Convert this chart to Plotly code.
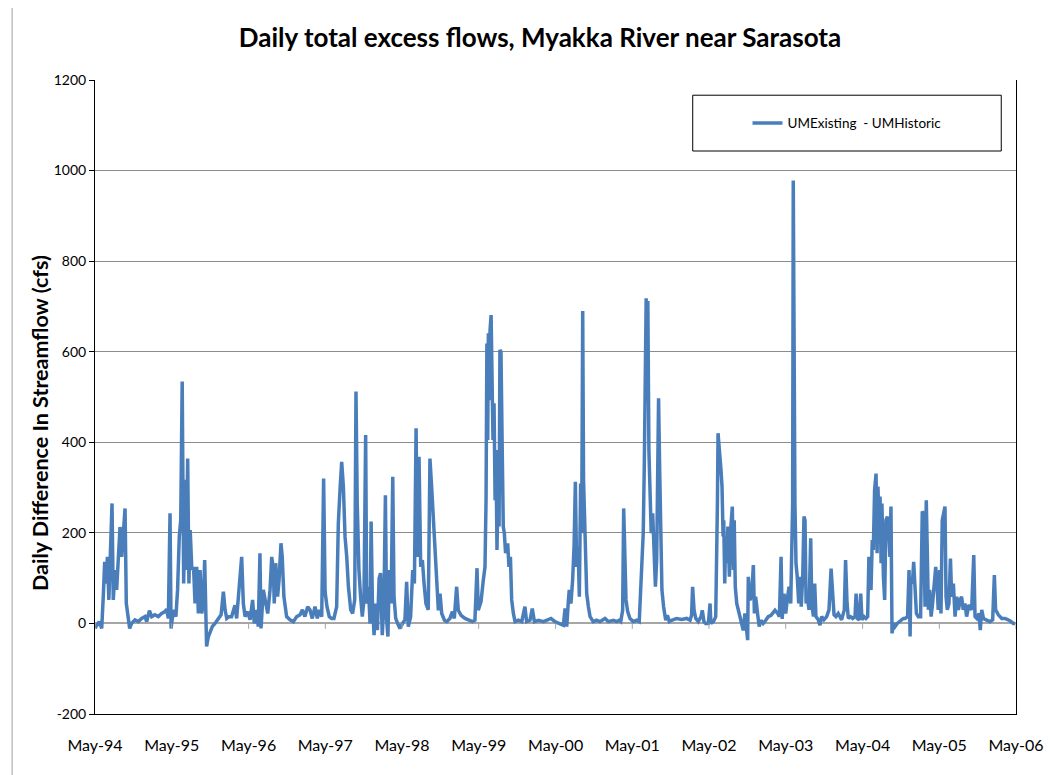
import pandas as pd
import plotly.graph_objects as go

# days since 1994-05-01 and daily excess flow (cfs)
start_date = "1994-05-01"
day = [
    0, 5, 20, 32, 40, 46, 52, 59, 66, 74, 81, 87, 95, 103, 113, 119, 127, 135, 143, 149,
    157, 165, 174, 190, 206, 222, 238, 246, 259, 270, 285, 301, 317, 333, 341, 349, 357, 362, 373, 385,
    393, 401, 408, 415, 422, 430, 434, 441, 447, 453, 461, 469, 476, 484, 492, 500, 508, 515, 522, 531,
    539, 547, 558, 571, 587, 600, 611, 619, 627, 638, 650, 666, 674, 687, 698, 706, 714, 727, 738, 750,
    758, 769, 777, 785, 790, 801, 812, 822, 833, 841, 849, 853, 860, 869, 876, 885, 891, 899, 912, 928,
    944, 960, 976, 987, 999, 1012, 1023, 1034, 1047, 1058, 1067, 1079, 1088, 1095, 1104, 1115, 1126, 1137, 1150, 1158,
    1166, 1174, 1182, 1190, 1198, 1206, 1217, 1226, 1236, 1242, 1248, 1256, 1264, 1272, 1280, 1288, 1293, 1301, 1309, 1314,
    1320, 1328, 1336, 1344, 1352, 1359, 1367, 1375, 1382, 1388, 1394, 1401, 1409, 1417, 1423, 1431, 1440, 1451, 1464, 1475,
    1483, 1491, 1502, 1512, 1520, 1528, 1534, 1542, 1550, 1558, 1566, 1575, 1586, 1594, 1602, 1610, 1618, 1626, 1634, 1642,
    1650, 1663, 1674, 1689, 1701, 1710, 1721, 1729, 1742, 1761, 1777, 1796, 1808, 1818, 1824, 1837, 1848, 1856, 1861, 1865,
    1869, 1872, 1877, 1880, 1885, 1889, 1894, 1899, 1904, 1908, 1913, 1918, 1923, 1927, 1932, 1938, 1943, 1948, 1954, 1964,
    1970, 1977, 1983, 1991, 1999, 2015, 2031, 2046, 2054, 2070, 2081, 2091, 2110, 2134, 2149, 2170, 2189, 2213, 2229, 2237,
    2245, 2253, 2257, 2265, 2273, 2280, 2286, 2292, 2299, 2305, 2311, 2316, 2321, 2325, 2332, 2340, 2348, 2356, 2371, 2387,
    2403, 2427, 2443, 2467, 2483, 2494, 2502, 2511, 2516, 2521, 2527, 2535, 2546, 2562, 2578, 2590, 2597, 2603, 2609, 2614,
    2619, 2623, 2627, 2631, 2636, 2641, 2647, 2654, 2660, 2667, 2673, 2678, 2682, 2687, 2692, 2698, 2706, 2716, 2724, 2733,
    2744, 2768, 2792, 2816, 2832, 2839, 2844, 2851, 2859, 2871, 2884, 2890, 2898, 2906, 2919, 2927, 2931, 2943, 2954, 2958,
    2962, 2965, 2970, 2974, 2979, 2984, 2989, 2992, 2997, 3001, 3006, 3012, 3019, 3025, 3033, 3038, 3042, 3047, 3054, 3062,
    3069, 3077, 3085, 3093, 3101, 3106, 3109, 3117, 3125, 3133, 3138, 3144, 3153, 3161, 3169, 3180, 3192, 3204, 3217, 3228,
    3236, 3249, 3257, 3265, 3270, 3279, 3287, 3295, 3303, 3311, 3315, 3320, 3323, 3327, 3331, 3336, 3342, 3349, 3355, 3361,
    3368, 3374, 3379, 3384, 3390, 3398, 3406, 3411, 3419, 3425, 3431, 3442, 3450, 3458, 3469, 3482, 3493, 3503, 3509, 3517,
    3526, 3537, 3545, 3553, 3566, 3572, 3579, 3585, 3596, 3606, 3617, 3622, 3628, 3637, 3644, 3650, 3660, 3669, 3677, 3683,
    3688, 3693, 3699, 3704, 3710, 3717, 3722, 3726, 3731, 3736, 3741, 3745, 3752, 3758, 3764, 3771, 3777, 3783, 3788, 3793,
    3799, 3807, 3818, 3831, 3847, 3855, 3867, 3874, 3879, 3883, 3890, 3896, 3902, 3909, 3918, 3929, 3937, 3944, 3950, 3956,
    3961, 3966, 3972, 3979, 3986, 3994, 4001, 4007, 4013, 4020, 4026, 4032, 4039, 4045, 4050, 4056, 4064, 4071, 4077, 4085,
    4093, 4101, 4109, 4117, 4124, 4132, 4140, 4148, 4159, 4172, 4182, 4188, 4196, 4207, 4213, 4220, 4228, 4243, 4259, 4272,
    4280, 4286, 4299, 4315, 4331, 4354, 4370, 4378,
]
excess_cfs = [
    -5, -7, 4, -11, 66, 136, 88, 147, 52, 147, 265, 52, 118, 74, 177, 213, 147, 213, 254, 44,
    15, -11, 0, 8, 4, 11, 15, 4, 28, 15, 19, 15, 22, 26, 31, 11, 243, -11, 30, 15,
    74, 191, 228, 534, 88, 317, 118, 364, 88, 206, 118, 125, 44, 125, 22, 118, 22, 44, 140, -51,
    -30, -22, -7, 0, 11, 19, 70, 30, 11, 15, 15, 40, 11, 81, 147, 44, 15, 26, 8, 52,
    0, 30, -7, 155, -11, 74, 44, 22, 74, 147, 118, 44, 133, 59, 96, 177, 147, 59, 15, 8,
    4, 15, 19, 30, 15, 37, 30, 11, 37, 11, 30, 15, 320, 70, 37, 15, 11, 11, 37, 221,
    295, 357, 302, 191, 147, 81, 30, 22, 52, 512, 265, 118, 59, 15, 52, 416, 44, 81, 0, 225,
    52, -26, 44, -15, 99, 111, -26, 44, 283, 8, -29, 118, 44, 324, 59, 11, 0, -11, 0, 8,
    92, -7, 15, 118, 88, 431, 147, 368, 125, 140, 88, 44, 30, 364, 302, 230, 150, 74, 29, 66,
    22, 7, 4, 11, 26, 11, 81, 29, 18, 11, 7, 4, 7, 122, 29, 48, 96, 125, 272, 618,
    405, 641, 493, 648, 681, 493, 405, 486, 272, 383, 162, 302, 214, 604, 600, 383, 214, 199, 155, 177,
    125, 147, 52, 22, 4, 7, 4, 37, 4, 7, 33, 4, 7, 4, 7, 11, 4, 0, -4, 33,
    -7, 52, 74, 44, 96, 173, 313, 125, 169, 59, 309, 199, 690, 317, 155, 66, 37, 15, 4, 7,
    4, 11, 4, 7, 4, 7, 4, 29, 254, 125, 52, 26, 11, 4, 7, 4, 81, 155, 199, 346,
    501, 718, 493, 712, 383, 302, 199, 243, 140, 81, 140, 346, 497, 346, 199, 74, 37, 7, 18, 4,
    7, 11, 9, 11, 7, 18, 81, 29, 11, 4, 15, 29, 4, 0, 0, 44, 0, 4, 15, 118,
    265, 420, 398, 368, 339, 302, 192, 228, 88, 192, 133, 214, 103, 206, 258, 118, 228, 81, 44, 29,
    15, -7, -15, 22, -7, -37, 103, 52, 59, 129, 22, 59, 22, -7, 7, 0, 7, 15, 18, 26,
    29, 22, 15, 147, 10, 66, 22, 55, 81, 44, 147, 265, 978, 449, 265, 133, 103, 44, 103, 37,
    103, 236, 228, 44, 59, 30, 188, 44, 15, 88, 15, 8, -4, 15, 8, 15, 30, 121, 59, 19,
    15, 22, 15, 8, 30, 140, 44, 11, 15, 11, 15, 66, 11, 8, 66, 8, 15, 11, 15, 147,
    88, 74, 184, 162, 294, 331, 155, 302, 228, 280, 133, 265, 103, 52, 228, 236, 206, 147, 258, -22,
    0, -7, 0, 4, 11, 11, 15, 118, -29, 103, 88, 136, 81, 22, 15, 15, 247, 243, 37, 272,
    155, 30, 74, 15, 44, 81, 125, 88, 30, 118, 22, 228, 250, 258, 59, 30, 44, 143, 59, 88,
    15, 59, 30, 52, 59, 30, 44, 15, 41, 30, 151, 15, 11, 22, -15, 30, 11, 8, 4, 8,
    107, 30, 19, 11, 11, 6, 0, 0,
]
series_name = "UMExisting  - UMHistoric"
y_ticks = [-200, 0, 200, 400, 600, 800, 1000, 1200]
y_tick_labels = ["-200", "0", "200", "400", "600", "800", "1000", "1200"]

dates = pd.Timestamp(start_date) + pd.to_timedelta(day, unit="D")
tick_dates = pd.date_range("1994-05-01", "2006-05-01", freq="12MS")

fig = go.Figure()
fig.add_trace(go.Scatter(
    x=dates, y=excess_cfs, mode="lines", name=series_name,
    line=dict(color="#4A7EBB", width=3.5),
))

# small tick marks sitting on the zero line
shapes = [
    dict(type="line", xref="x", yref="y", x0=t, x1=t, y0=0, y1=-12,
         line=dict(color="#A6A6A6", width=1))
    for t in tick_dates
]
# legend frame
shapes.append(dict(type="rect", xref="paper", yref="paper",
                   x0=0.649, x1=0.984, y0=0.888, y1=0.976,
                   line=dict(color="black", width=1), fillcolor="white", layer="below"))
# chart area left edge
shapes.append(dict(type="line", xref="paper", yref="paper",
                   x0=-0.090, x1=-0.090, y0=-0.12, y1=1.14,
                   line=dict(color="#A0A0A0", width=1)))

fig.update_layout(
    width=1064, height=775,
    margin=dict(l=87, r=56, t=72, b=69),
    paper_bgcolor="white", plot_bgcolor="white",
    font=dict(family="Lato", color="black"),
    title=dict(text="<b>Daily total excess flows, Myakka River near Sarasota</b>",
               x=0.5, xref="container", xanchor="center",
               y=0.961, yref="container", yanchor="middle",
               font=dict(size=26, color="black")),
    showlegend=True,
    legend=dict(x=0.8165, y=0.932, xanchor="center", yanchor="middle",
                bgcolor="rgba(0,0,0,0)", font=dict(size=13.5)),
    shapes=shapes,
    annotations=[dict(text="<b>Daily Difference In Streamflow (cfs)</b>",
                      xref="paper", yref="paper", x=-0.0597, y=0.459,
                      xanchor="center", yanchor="middle",
                      textangle=-90, showarrow=False, font=dict(size=21.5))],
)
fig.update_xaxes(
    range=[tick_dates[0], tick_dates[-1]],
    tickvals=tick_dates, tickformat="%b-%y",
    showgrid=False, zeroline=False,
    showline=True, linecolor="black", linewidth=1, mirror=False,
    ticks="", tickfont=dict(size=16), ticklabelstandoff=17,
)
fig.update_yaxes(
    range=[-200, 1200], tickvals=y_ticks, ticktext=y_tick_labels,
    showgrid=True, gridcolor="#8C8C8C", gridwidth=1,
    zeroline=True, zerolinecolor="#A6A6A6", zerolinewidth=2,
    showline=True, linecolor="black", linewidth=1, mirror=True,
    ticks="outside", ticklen=5, tickcolor="black",
    tickfont=dict(size=14),
)

fig.write_html("out.html")
